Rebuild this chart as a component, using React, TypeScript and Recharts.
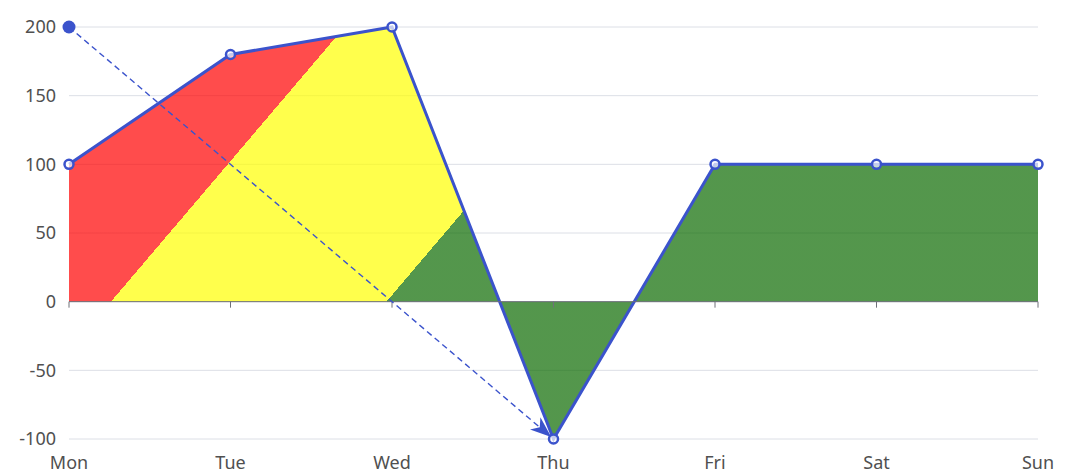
import React from 'react';
import {
  AreaChart,
  Area,
  XAxis,
  YAxis,
  CartesianGrid,
  ReferenceLine,
  ReferenceDot,
} from 'recharts';

const days = ['Mon', 'Tue', 'Wed', 'Thu', 'Fri', 'Sat', 'Sun'];
const values = [100, 180, 200, -100, 100, 100, 100];
const yTicks = [-100, -50, 0, 50, 100, 150, 200];
const arrowStart = { day: 'Mon', value: 200 };
const arrowEnd = { day: 'Thu', value: -100 };

const data = days.map((d, i) => ({ day: d, value: values[i] }));

const W = 1080;
const H = 475;
const LEFT = 69;
const RIGHT = 42;
const TOP = 27;
const BOTTOM = 36;
const PW = W - LEFT - RIGHT;
const PH = H - TOP - BOTTOM;

const BLUE = '#3b53cc';
const AXIS = '#6e7079';
const LABEL = '#505050';
const FONT = '"Noto Sans", sans-serif';

const ArrowShape = (props: any) => {
  const { x1, y1, x2, y2 } = props;
  const dx = x2 - x1;
  const dy = y2 - y1;
  const len = Math.hypot(dx, dy) || 1;
  const ux = dx / len;
  const uy = dy / len;
  const px = -uy;
  const py = ux;
  const tipX = x2 - ux * 3;
  const tipY = y2 - uy * 3;
  const L = 21;
  const Wd = 8;
  const I = 15;
  const bx = tipX - ux * L;
  const by = tipY - uy * L;
  const ix = tipX - ux * I;
  const iy = tipY - uy * I;
  return (
    <g>
      <line x1={x1} y1={y1} x2={ix} y2={iy} stroke={BLUE} strokeWidth={1.4} strokeDasharray="6 4" />
      <path
        d={`M${tipX},${tipY} L${bx + px * Wd},${by + py * Wd} L${ix},${iy} L${bx - px * Wd},${by - py * Wd} Z`}
        fill={BLUE}
        stroke="none"
      />
    </g>
  );
};

const TickShape = (props: any) => {
  const { x1, y1 } = props;
  return <line x1={x1} y1={y1} x2={x1} y2={y1 + 6} stroke={AXIS} strokeWidth={1} />;
};

export default function App() {
  return (
    <div style={{ position: 'absolute', left: 0, top: 0, width: W, height: H, background: '#fff' }}>
      <AreaChart
        width={W}
        height={H}
        data={data}
        margin={{ top: TOP, right: RIGHT, left: 0, bottom: 0 }}
      >
        <defs>
          <linearGradient
            id="areaGrad"
            gradientUnits="userSpaceOnUse"
            x1={LEFT}
            y1={TOP}
            x2={LEFT + PW * 0.5}
            y2={TOP + PH}
          >
            <stop offset="0" stopColor="#ff0000" />
            <stop offset="0.33" stopColor="#ff0000" />
            <stop offset="0.33" stopColor="#ffff00" />
            <stop offset="0.66" stopColor="#ffff00" />
            <stop offset="0.66" stopColor="#0b6a00" />
            <stop offset="1" stopColor="#0b6a00" />
          </linearGradient>
        </defs>
        <CartesianGrid vertical={false} stroke="#dcdfe6" />
        <XAxis
          dataKey="day"
          height={BOTTOM}
          axisLine={false}
          tickLine={false}
          tickSize={0}
          tickMargin={17}
          interval={0}
          tick={{ fontSize: 18, fill: LABEL, fontFamily: FONT }}
        />
        <YAxis
          width={LEFT}
          domain={[-100, 200]}
          ticks={yTicks}
          axisLine={false}
          tickLine={false}
          tickSize={0}
          tickMargin={13}
          interval={0}
          tick={{ fontSize: 18, fill: LABEL, fontFamily: FONT }}
        />
        <Area
          type="linear"
          dataKey="value"
          stroke={BLUE}
          strokeWidth={3}
          fill="url(#areaGrad)"
          fillOpacity={0.7}
          dot={{ r: 4.5, fill: '#fff', stroke: BLUE, strokeWidth: 2.5 }}
          activeDot={false}
          isAnimationActive={false}
        />
        <ReferenceLine y={0} stroke={AXIS} strokeWidth={1} />
        {days.map((d) => (
          <ReferenceLine
            key={d}
            segment={[
              { x: d, y: 0 },
              { x: d, y: 0 },
            ]}
            shape={TickShape}
          />
        ))}
        <ReferenceLine
          segment={[
            { x: arrowStart.day, y: arrowStart.value },
            { x: arrowEnd.day, y: arrowEnd.value },
          ]}
          shape={ArrowShape}
        />
        <ReferenceDot x={arrowStart.day} y={arrowStart.value} r={6.5} fill={BLUE} stroke="none" />
      </AreaChart>
    </div>
  );
}
